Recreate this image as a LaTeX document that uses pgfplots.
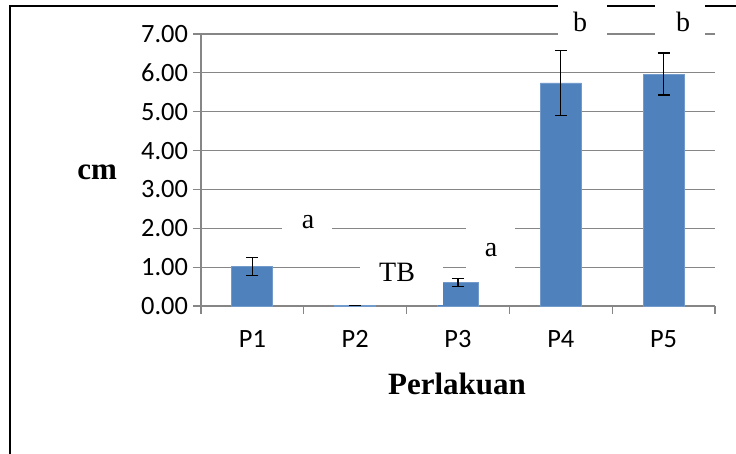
\documentclass[border=0pt]{standalone}
\usepackage{fontspec}
\setmainfont{Liberation Serif}
\newfontfamily\calibri{Carlito}
\usepackage{pgfplots}
\pgfplotsset{compat=1.18}
\definecolor{barblue}{HTML}{4F81BD}
\definecolor{gridgray}{HTML}{868686}

\begin{document}
\begin{tikzpicture}[x=1pt,y=1pt]
\useasboundingbox (-100.5,-74) rectangle (267.5,153);
\clip (-100.5,-74) rectangle (267.5,153);
\draw[line width=0.8pt] (-95.5,-90) rectangle (290,150);
\begin{axis}[
  at={(0,0)}, anchor=south west, scale only axis,
  width=257pt, height=136pt,
  xmin=-0.5, xmax=4.5, ymin=0, ymax=7,
  clip=false,
  axis x line*=bottom, axis y line*=left,
  axis line style={gridgray, line width=0.6pt, -},
  ytick={0,1,...,7},
  ymajorgrids,
  grid style={gridgray, line width=0.6pt},
  tick align=outside,
  major tick length=4pt,
  tick style={gridgray, line width=0.6pt},
  xtick={-0.5,0.5,1.5,2.5,3.5,4.5},
  xticklabels={},
  extra x ticks={0,1,2,3,4},
  extra x tick labels={P1,P2,P3,P4,P5},
  extra x tick style={tick style={draw=none}},
  /pgf/number format/assume math mode=true,
  yticklabel style={/pgf/number format/fixed, /pgf/number format/fixed zerofill, /pgf/number format/precision=2, font=\calibri\fontsize{13.2}{15}\selectfont, xshift=1pt},
  xticklabel style={font=\calibri\fontsize{13.2}{15}\selectfont, yshift=-4pt, text height=9pt, text depth=0pt},
  xlabel={Perlakuan},
  xlabel style={at={(axis description cs:0.498,-0.287)}, anchor=center, font=\bfseries\fontsize{15.5}{18}\selectfont},
  ylabel={cm},
  ylabel style={rotate=-90, at={(axis description cs:-0.202,0.493)}, anchor=center, font=\bfseries\fontsize{15.5}{18}\selectfont},
]
\addplot[ybar, bar width=20.5pt, fill=barblue, draw=barblue!80!white,
  error bars/.cd, y dir=both, y explicit,
  error bar style={black, line width=0.6pt},
  error mark options={black, rotate=90, mark size=3pt, line width=0.6pt}]
  coordinates {
  (0,1.02) +- (0,0.23)
  (1,0.02) +- (0,0)
  (2,0.60) +- (0,0.10)
  (3,5.74) +- (0,0.83)
  (4,5.97) +- (0,0.54)
  };
% data labels with white background
\fill[white] (axis cs:0.288,1.54) rectangle (axis cs:0.774,2.78);
\node[font=\fontsize{14}{16}\selectfont] at (axis cs:0.541,2.16) {a};
\fill[white] (axis cs:1.047,0.026) rectangle (axis cs:1.854,1.49);
\node[font=\fontsize{14}{16}\selectfont] at (axis cs:1.407,0.875) {TB};
\fill[white] (axis cs:2.078,0.82) rectangle (axis cs:2.554,2.06);
\node[font=\fontsize{14}{16}\selectfont] at (axis cs:2.321,1.44) {a};
\fill[white] (axis cs:2.973,6.69) rectangle (axis cs:3.449,7.93);
\node[font=\fontsize{14}{16}\selectfont] at (axis cs:3.187,7.31) {b};
\fill[white] (axis cs:3.916,6.69) rectangle (axis cs:4.403,7.93);
\node[font=\fontsize{14}{16}\selectfont] at (axis cs:4.189,7.31) {b};
\end{axis}
\end{tikzpicture}
\end{document}
